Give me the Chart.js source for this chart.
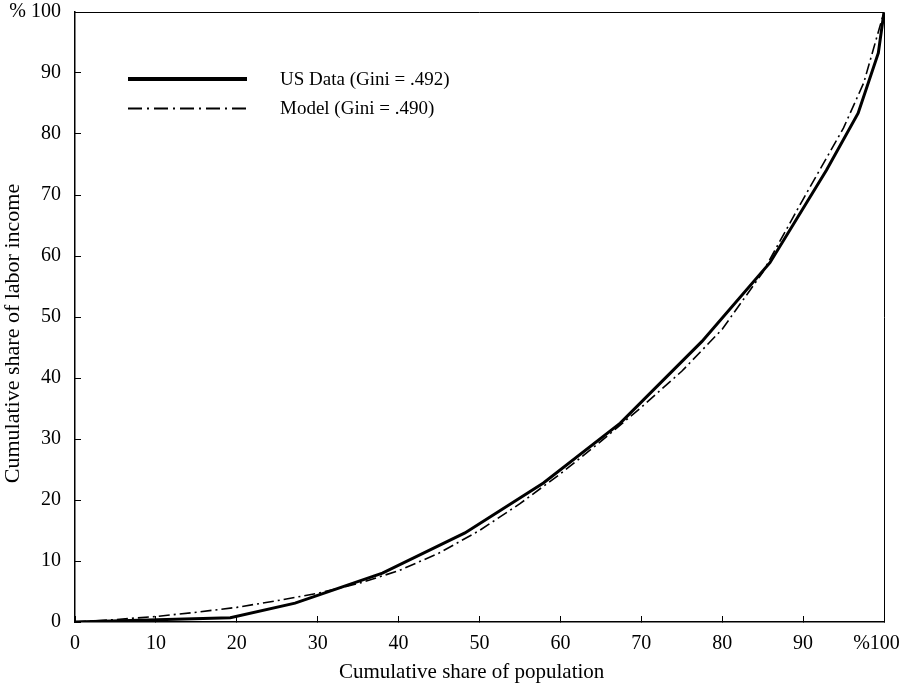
<!DOCTYPE html>
<html>
<head>
<meta charset="utf-8">
<script src="https://cdn.jsdelivr.net/npm/chart.js@4.4.1/dist/chart.umd.min.js"></script>
<style>
  html, body { margin: 0; padding: 0; background: #fff; }
  #wrap { width: 899px; height: 692px; position: relative; }
</style>
</head>
<body>
<div id="wrap"><canvas id="chart"></canvas></div>
<script>
// Lorenz curves (cumulative % of population -> cumulative % of labor income)
const usDataX = [0, 19.2, 27.2, 38, 48.2, 57.9, 67.4, 77.5, 85.9, 92.9, 96.8, 99.3, 100];
const usDataY = [0, 0.7, 3.1, 8.0, 14.6, 22.8, 32.6, 46.0, 58.9, 74.1, 83.4, 93.3, 100];

const modelX = [0, 5, 10, 15, 20, 25, 30, 35, 40, 45, 50, 55, 60, 65, 70, 75, 80, 85, 90, 95, 97.5, 100];
const modelY = [0, 0.4, 0.9, 1.6, 2.4, 3.5, 4.7, 6.3, 8.4, 11.3, 15.0, 19.4, 24.3, 29.6, 35.2, 41.1, 48.0, 57.3, 69.3, 81.0, 88.4, 100];

const seriesLabels = ['US Data (Gini = .492)', 'Model (Gini = .490)'];
// trailing spaces nudge the centred titles like in the original figure
const xTitle = 'Cumulative share of population   ';
const yTitle = 'Cumulative share of labor income      ';

const FONT = '"Liberation Serif", "Times New Roman", serif';

function toPoints(xs, ys) {
    var pts = [];
    for (var i = 0; i < xs.length; i++) pts.push({x: xs[i], y: ys[i]});
    return pts;
}

// legend drawn inside the plot, top-left
const boxLegend = {
    id: 'boxLegend',
    afterDatasetsDraw(chart) {
        const ctx = chart.ctx;
        const a = chart.chartArea;
        chart.data.datasets.forEach(function(ds, i) {
            const y = a.top + 67 + i * 29.5;
            ctx.save();
            ctx.strokeStyle = ds.borderColor;
            ctx.lineWidth = i === 0 ? 4 : 2;
            ctx.setLineDash(i === 0 ? [] : [14, 5, 2, 5]);
            ctx.beginPath();
            ctx.moveTo(a.left + 53, y);
            ctx.lineTo(a.left + 172, y);
            ctx.stroke();
            ctx.setLineDash([]);
            ctx.fillStyle = '#000';
            ctx.font = '19px ' + FONT;
            ctx.textBaseline = 'middle';
            ctx.fillText(ds.label, a.left + 205, y + 1);
            ctx.restore();
        });
    }
};

// thin frame on top and right
const frame = {
    id: 'frame',
    afterDraw(chart) {
        const ctx = chart.ctx;
        const a = chart.chartArea;
        ctx.save();
        ctx.strokeStyle = '#000';
        ctx.lineWidth = 1;
        ctx.beginPath();
        ctx.moveTo(a.left, a.top + 0.5);
        ctx.lineTo(a.right + 0.5, a.top + 0.5);
        ctx.lineTo(a.right + 0.5, a.bottom);
        ctx.stroke();
        ctx.restore();
    }
};

var ctx = document.getElementById('chart').getContext('2d');
var myChart = new Chart(ctx, {
    type: 'line',
    data: {
        datasets: [{
            label: seriesLabels[0],
            data: toPoints(usDataX, usDataY),
            borderColor: '#000',
            borderWidth: 3,
            pointRadius: 0,
            tension: 0,
            fill: false
        }, {
            label: seriesLabels[1],
            data: toPoints(modelX, modelY),
            borderColor: '#000',
            borderWidth: 1.6,
            borderDash: [11, 4, 2, 4],
            pointRadius: 0,
            tension: 0,
            fill: false
        }]
    },
    options: {
        responsive: true,
        maintainAspectRatio: false,
        animation: false,
        layout: { padding: { top: 0, right: 15, left: 0, bottom: 0 } },
        plugins: {
            legend: { display: false },
            tooltip: { enabled: false }
        },
        scales: {
            x: {
                type: 'linear',
                min: 0,
                max: 100,
                ticks: {
                    stepSize: 10,
                    color: '#000',
                    font: { family: FONT, size: 20 },
                    padding: 16,
                    maxRotation: 0,
                    callback: function(v) { return v === 100 ? '%100   ' : v; }
                },
                grid: { drawOnChartArea: false, tickLength: -6, color: '#000', lineWidth: 1 },
                border: { color: '#000', width: 1.5 },
                title: {
                    display: true,
                    text: xTitle,
                    color: '#000',
                    font: { family: FONT, size: 21 },
                    padding: { top: 0, bottom: 7 }
                },
                afterFit: function(scale) {
                    scale.height = 70;
                    scale.paddingRight = 15;
                }
            },
            y: {
                min: 0,
                max: 100,
                ticks: {
                    stepSize: 10,
                    color: '#000',
                    font: { family: FONT, size: 20 },
                    padding: 20,
                    callback: function(v) { return v === 100 ? '% 100' : v; }
                },
                grid: { drawOnChartArea: false, tickLength: -6, color: '#000', lineWidth: 1 },
                border: { color: '#000', width: 1.5 },
                title: {
                    display: true,
                    text: yTitle,
                    color: '#000',
                    font: { family: FONT, size: 22 },
                    padding: { top: 0, bottom: 0 }
                },
                afterFit: function(scale) {
                    scale.width = 75;
                    scale.paddingTop = 12;
                }
            }
        }
    },
    plugins: [boxLegend, frame]
});
</script>
</body>
</html>
